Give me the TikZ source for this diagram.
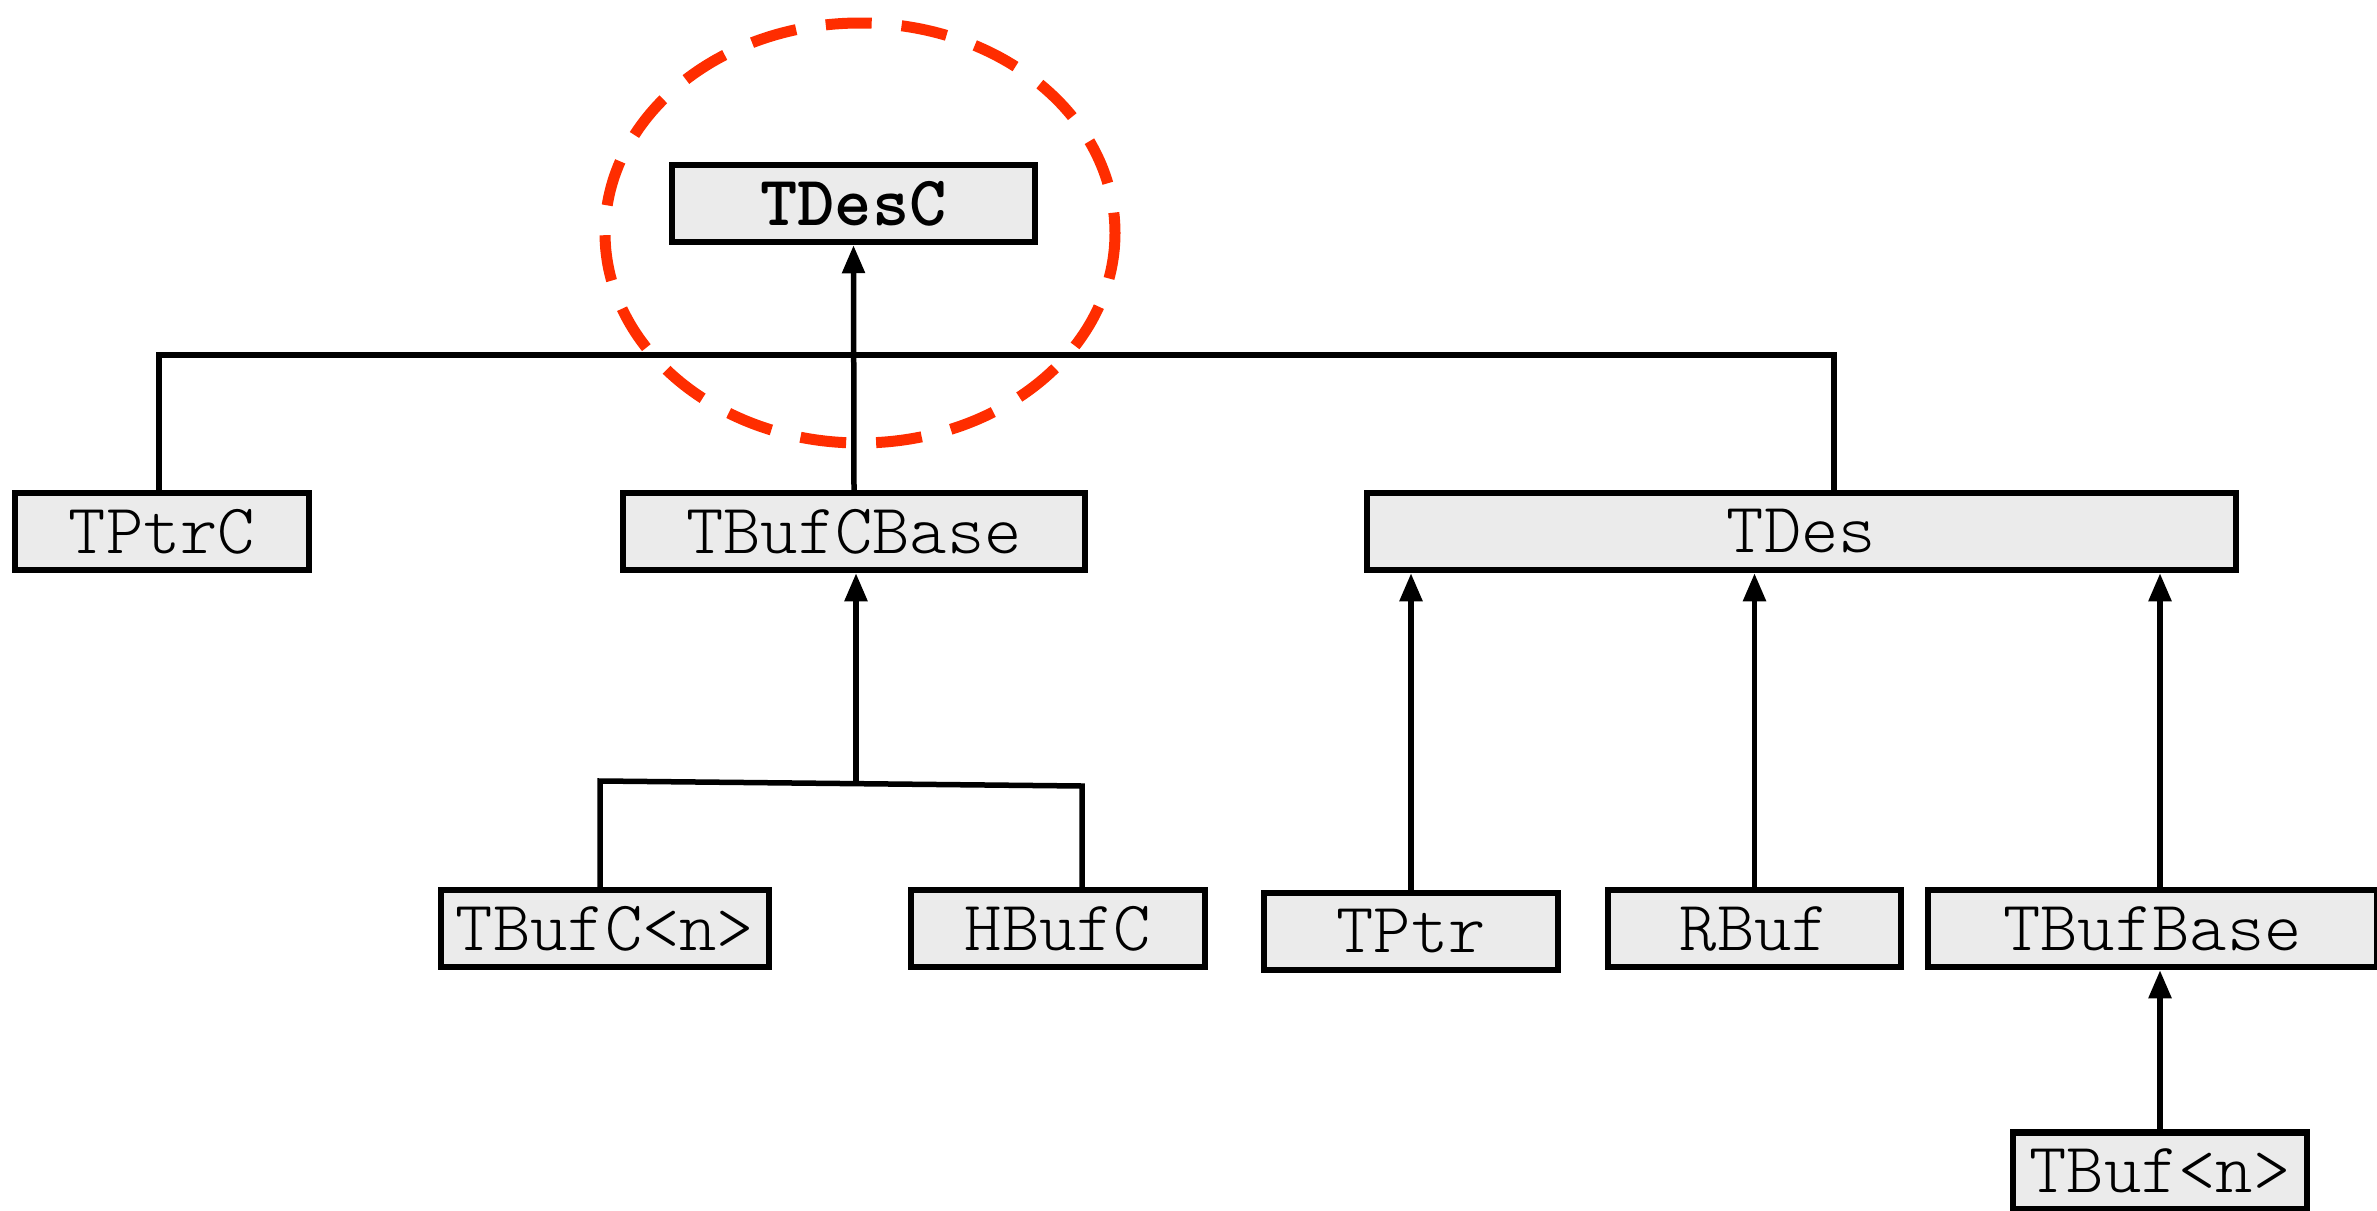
\documentclass[tikz,border=0pt]{standalone}
\usepackage{fontspec}
\setmonofont{Latin Modern Mono Light}
\usetikzlibrary{arrows.meta}
\definecolor{boxfill}{RGB}{235,235,235}
\definecolor{hilite}{RGB}{255,45,0}
\begin{document}
\begin{tikzpicture}[x=1pt,y=-1pt,
  cls/.style={draw=black, line width=6.5pt, fill=boxfill, rectangle,
    minimum height=77pt, inner sep=0pt,
    font=\ttfamily\fontsize{71}{78}\selectfont},
  link/.style={line width=5.5pt, draw=black},
  inherit/.style={link, -{Triangle[length=28pt,width=22pt]}}]
\useasboundingbox (0,0) rectangle (2377,1210);

% highlight around the root class
\draw[hilite, line width=11pt, dash pattern=on 46pt off 30pt]
  (860,233) ellipse [x radius=255, y radius=210];

% classes
\node[cls, minimum width=363pt, font=\ttfamily\bfseries\fontsize{71}{78}\selectfont] (tdesc) at (853.5,203.5) {TDesC};
\node[cls, minimum width=294pt] (tptrc) at (162,531.5) {TPtrC};
\node[cls, minimum width=462pt] (tbufcbase) at (854,531.5) {TBufCBase};
\node[cls, minimum width=869pt] (tdes) at (1801.5,531.5) {TDes};
\node[cls, minimum width=328pt] (tbufcn) at (605,928.5) {TBufC<n>};
\node[cls, minimum width=294pt] (hbufc) at (1058,928.5) {HBufC};
\node[cls, minimum width=294pt] (tptr) at (1411,931.5) {TPtr};
\node[cls, minimum width=293pt] (rbuf) at (1754.5,928.5) {RBuf};
\node[cls, minimum width=449pt] (tbufbase) at (2152.5,928.5) {TBufBase};
\node[cls, minimum width=294pt] (tbufn) at (2160,1171) {TBuf<n>};

% junction points
\coordinate (busL) at (159,355);
\coordinate (busR) at (1834,355);
\coordinate (j1) at (600,781);
\coordinate (j2) at (1082,786);
\coordinate (jm) at (856,784);

% upper hierarchy
\draw[link] (tptrc.north -| busL) -- (busL) -- (busR) -- (tdes.north -| busR);
\draw[inherit] (tbufcbase.north) -- (tdesc.south);

% TBufCBase subclasses
\draw[link] (tbufcn.north -| j1) -- (j1) -- (j2) -- (hbufc.north -| j2);
\draw[inherit] (jm) -- (tbufcbase.south -| jm);

% TDes subclasses
\draw[inherit] (tptr.north) -- (tptr.north |- tdes.south);
\draw[inherit] (rbuf.north) -- (rbuf.north |- tdes.south);
\draw[inherit] (tbufn.north |- tbufbase.north) -- (tbufn.north |- tdes.south);
\draw[inherit] (tbufn.north) -- (tbufn.north |- tbufbase.south);
\end{tikzpicture}
\end{document}
